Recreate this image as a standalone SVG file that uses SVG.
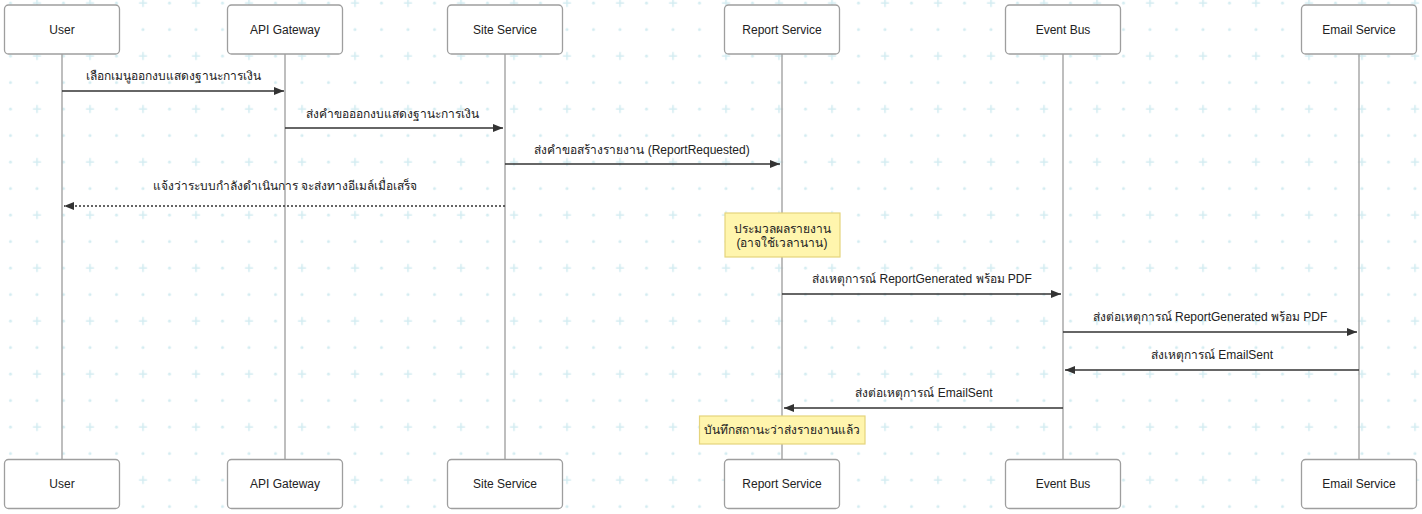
<svg xmlns="http://www.w3.org/2000/svg" width="1422" height="514" viewBox="0 0 1422 514">
  <style>
    text { font-family: "Liberation Sans", Arial, "Noto Sans", sans-serif; font-size: 12px; fill: #222; }
    .actor rect { fill: #ffffff; stroke: #9e9e9e; stroke-width: 1.3; }
    .actor text { text-anchor: middle; dominant-baseline: central; }
    .life { stroke: #a8a8a8; stroke-width: 1.5; }
    .msg { stroke: #333; stroke-width: 1.5; fill: none; }
    .dash { stroke-dasharray: 2 2; }
    .label { text-anchor: middle; }
    .note rect { fill: #fff5ad; stroke: #e5d47c; stroke-width: 1.2; }
    .note text { text-anchor: middle; dominant-baseline: central; }
    .grid { fill: #d3ecf1; }
    .gridp { stroke: #d3ecf1; stroke-width: 1.6; }
  </style>
  <defs>
    <pattern id="bg" patternUnits="userSpaceOnUse" x="-2.75" y="-10.25" width="53" height="53">
      <circle class="grid" cx="13.25" cy="13.25" r="1.5"/>
      <path class="gridp" d="M35.75 13.25h8M39.75 9.25v8"/>
      <circle class="grid" cx="13.25" cy="39.75" r="1.5"/>
      <circle class="grid" cx="39.75" cy="39.75" r="1.5"/>
    </pattern>
    <marker id="ah" viewBox="0 0 10 8" refX="10" refY="4" markerWidth="10" markerHeight="8" markerUnits="userSpaceOnUse" orient="auto">
      <path d="M0 0L10 4L0 8z" fill="#333"/>
    </marker>
  </defs>

  <rect width="1422" height="514" fill="#ffffff"/>
  <rect width="1422" height="514" fill="url(#bg)"/>

  <!-- lifelines -->
  <g id="lifelines">
    <line class="life" x1="62" y1="54" x2="62" y2="459"/>
    <line class="life" x1="285" y1="54" x2="285" y2="459"/>
    <line class="life" x1="505" y1="54" x2="505" y2="459"/>
    <line class="life" x1="782" y1="54" x2="782" y2="459"/>
    <line class="life" x1="1063" y1="54" x2="1063" y2="459"/>
    <line class="life" x1="1359" y1="54" x2="1359" y2="459"/>
  </g>

  <!-- participants, top and bottom -->
  <g id="user" class="actor">
    <rect x="4.5" y="5" width="115" height="49" rx="4"/><text x="62" y="30">User</text>
    <rect x="4.5" y="459.5" width="115" height="49" rx="4"/><text x="62" y="484">User</text>
  </g>
  <g id="api-gateway" class="actor">
    <rect x="227.5" y="5" width="115" height="49" rx="4"/><text x="285" y="30">API Gateway</text>
    <rect x="227.5" y="459.5" width="115" height="49" rx="4"/><text x="285" y="484">API Gateway</text>
  </g>
  <g id="site-service" class="actor">
    <rect x="447.5" y="5" width="115" height="49" rx="4"/><text x="505" y="30">Site Service</text>
    <rect x="447.5" y="459.5" width="115" height="49" rx="4"/><text x="505" y="484">Site Service</text>
  </g>
  <g id="report-service" class="actor">
    <rect x="724.5" y="5" width="115" height="49" rx="4"/><text x="782" y="30">Report Service</text>
    <rect x="724.5" y="459.5" width="115" height="49" rx="4"/><text x="782" y="484">Report Service</text>
  </g>
  <g id="event-bus" class="actor">
    <rect x="1005.5" y="5" width="115" height="49" rx="4"/><text x="1063" y="30">Event Bus</text>
    <rect x="1005.5" y="459.5" width="115" height="49" rx="4"/><text x="1063" y="484">Event Bus</text>
  </g>
  <g id="email-service" class="actor">
    <rect x="1301.5" y="5" width="115" height="49" rx="4"/><text x="1359" y="30">Email Service</text>
    <rect x="1301.5" y="459.5" width="115" height="49" rx="4"/><text x="1359" y="484">Email Service</text>
  </g>

  <!-- notes -->
  <g id="note-processing" class="note">
    <rect x="725" y="213" width="115" height="44"/>
    <text x="782" y="229">ประมวลผลรายงาน</text>
    <text x="782" y="243">(อาจใช้เวลานาน)</text>
  </g>
  <g id="note-saved" class="note">
    <rect x="699.5" y="416" width="165.5" height="28"/>
    <text x="782" y="430">บันทึกสถานะว่าส่งรายงานแล้ว</text>
  </g>

  <!-- messages -->
  <g id="connectors">
    <line class="msg" x1="62" y1="91" x2="284" y2="91" marker-end="url(#ah)"/>
    <text class="label" x="173" y="80">เลือกเมนูออกงบแสดงฐานะการเงิน</text>

    <line class="msg" x1="285" y1="128" x2="503" y2="128" marker-end="url(#ah)"/>
    <text class="label" x="392" y="118">ส่งคำขอออกงบแสดงฐานะการเงิน</text>

    <line class="msg" x1="505" y1="164" x2="780" y2="164" marker-end="url(#ah)"/>
    <text class="label" x="642" y="154">ส่งคำขอสร้างรายงาน (ReportRequested)</text>

    <line class="msg dash" x1="505" y1="206" x2="64" y2="206" marker-end="url(#ah)"/>
    <text class="label" x="285" y="190">แจ้งว่าระบบกำลังดำเนินการ จะส่งทางอีเมล์เมื่อเสร็จ</text>

    <line class="msg" x1="782" y1="294" x2="1061" y2="294" marker-end="url(#ah)"/>
    <text class="label" x="922" y="283">ส่งเหตุการณ์ ReportGenerated พร้อม PDF</text>

    <line class="msg" x1="1063" y1="332" x2="1357" y2="332" marker-end="url(#ah)"/>
    <text class="label" x="1210" y="321">ส่งต่อเหตุการณ์ ReportGenerated พร้อม PDF</text>

    <line class="msg" x1="1359" y1="370" x2="1065" y2="370" marker-end="url(#ah)"/>
    <text class="label" x="1212" y="359">ส่งเหตุการณ์ EmailSent</text>

    <line class="msg" x1="1063" y1="408" x2="784" y2="408" marker-end="url(#ah)"/>
    <text class="label" x="924" y="397">ส่งต่อเหตุการณ์ EmailSent</text>
  </g>
</svg>
